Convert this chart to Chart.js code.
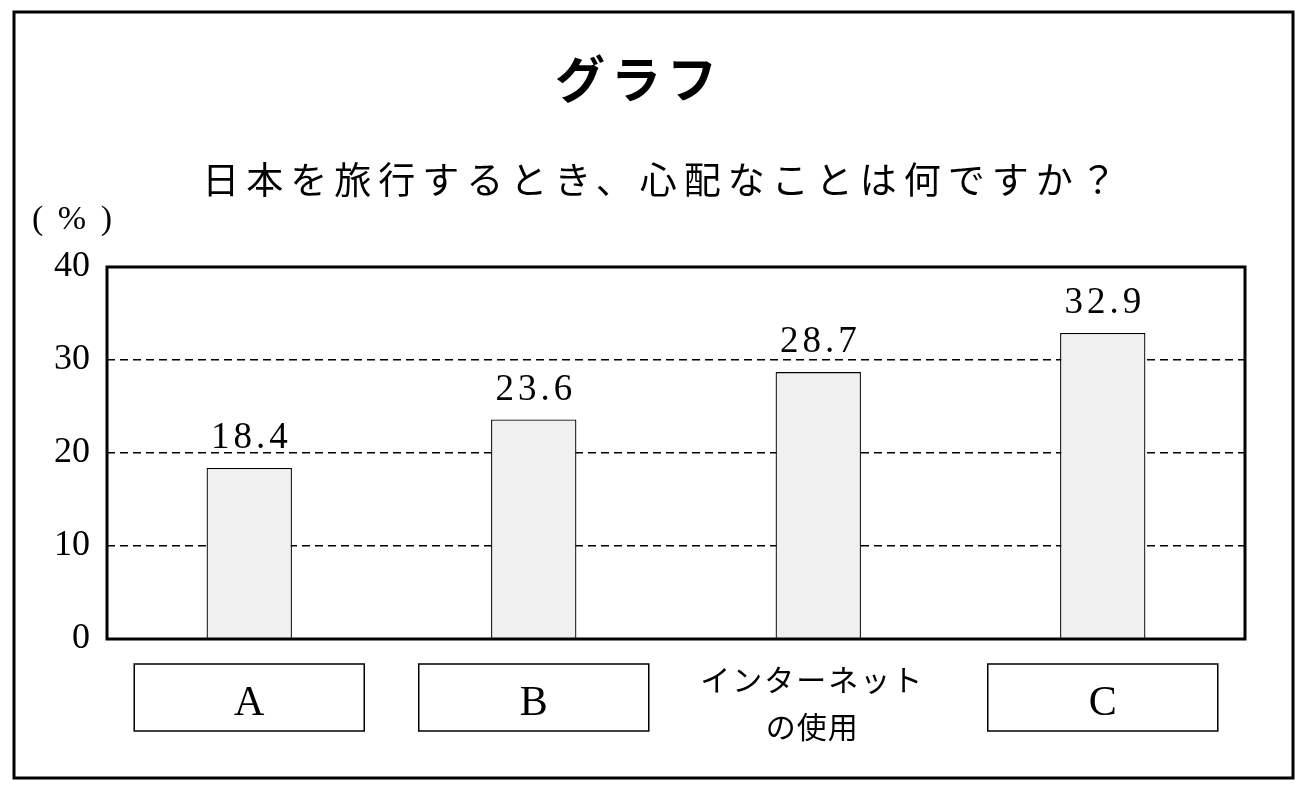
<!DOCTYPE html>
<html lang="ja">
<head>
<meta charset="utf-8">
<title>グラフ</title>
<script src="https://cdn.jsdelivr.net/npm/chart.js@4.4.1/dist/chart.umd.min.js"></script>
<style>
    html, body { margin: 0; padding: 0; background: #fff; }
    #wrap { width: 1307px; height: 792px; position: relative; }
</style>
</head>
<body>
<div id="wrap"><canvas id="bar_chart"></canvas></div>
<script>
// データ
const categories = ['A', 'B', ['インターネット', 'の使用'], 'C'];
const boxed = [true, true, false, true];
const values = [18.4, 23.6, 28.7, 32.9];
const yTicks = [0, 10, 20, 30, 40];

const titleText = 'グラフ';
const subtitleText = '日本を旅行するとき、心配なことは何ですか？';
const unitText = '( % )';

const SERIF = '"Liberation Serif", "DejaVu Serif", serif';
const SANS = '"Noto Sans CJK JP", "Noto Sans", sans-serif';

// 枠・タイトル・ラベルを描くプラグイン
const decoPlugin = {
    id: 'deco',
    beforeDraw: function (chart) {
        let ctx = chart.ctx;
        ctx.save();
        ctx.fillStyle = '#fff';
        ctx.fillRect(0, 0, chart.width, chart.height);
        ctx.strokeStyle = '#000';
        ctx.lineWidth = 3;
        ctx.strokeRect(14, 12, 1279, 766);

        ctx.fillStyle = '#000';
        ctx.textAlign = 'center';
        ctx.textBaseline = 'middle';
        ctx.font = 'bold 50px ' + SANS;
        ctx.letterSpacing = '6px';
        ctx.fillText(titleText, 639, 79);

        ctx.font = '37px ' + SANS;
        ctx.letterSpacing = '7px';
        ctx.fillText(subtitleText, 663, 180);

        ctx.textAlign = 'left';
        ctx.font = '34px ' + SERIF;
        ctx.letterSpacing = '3px';
        ctx.fillText(unitText, 32, 220);
        ctx.restore();
    },
    afterDraw: function (chart) {
        let ctx = chart.ctx;
        let area = chart.chartArea;
        let xScale = chart.scales.x;
        let meta = chart.getDatasetMeta(0);
        ctx.save();

        // グラフ枠
        ctx.strokeStyle = '#000';
        ctx.lineWidth = 3;
        ctx.strokeRect(area.left, area.top, area.right - area.left, area.bottom - area.top);

        // 値ラベル
        ctx.fillStyle = '#000';
        ctx.textAlign = 'center';
        ctx.textBaseline = 'alphabetic';
        ctx.font = '37px ' + SERIF;
        ctx.letterSpacing = '4px';
        meta.data.forEach(function (bar, i) {
            ctx.fillText(values[i].toFixed(1), bar.x + 2, bar.y - 20);
        });

        // 項目ラベル
        categories.forEach(function (cat, i) {
            let cx = xScale.getPixelForValue(i);
            if (boxed[i]) {
                ctx.lineWidth = 1.5;
                ctx.strokeRect(cx - 115, 664, 230, 67);
                ctx.font = '42px ' + SERIF;
                ctx.letterSpacing = '0px';
                ctx.textBaseline = 'alphabetic';
                ctx.fillText(cat, cx, 715);
            } else {
                ctx.font = '30px ' + SANS;
                ctx.letterSpacing = '2px';
                ctx.textBaseline = 'middle';
                ctx.fillText(cat[0], cx - 6, 680);
                ctx.letterSpacing = '1px';
                ctx.fillText(cat[1], cx - 6, 727);
            }
        });
        ctx.restore();
    }
};

let ctx = document.getElementById('bar_chart').getContext('2d');
let myChart = new Chart(ctx, {
    type: 'bar',
    data: {
        labels: categories,
        datasets: [{
            label: '心配なこと',
            data: values,
            backgroundColor: '#f0f0f0',
            borderColor: '#000',
            borderWidth: 1.3,
            barPercentage: 0.3,
            categoryPercentage: 1
        }]
    },
    options: {
        responsive: true,
        maintainAspectRatio: false,
        animation: false,
        layout: {
            padding: { top: 267, right: 62, bottom: 0, left: 0 }
        },
        plugins: {
            legend: { display: false },
            tooltip: { enabled: false },
            title: { display: false }
        },
        scales: {
            x: {
                grid: { display: false, drawTicks: false },
                border: { display: false },
                ticks: { display: false },
                afterFit: function (scale) { scale.height = 153; }
            },
            y: {
                min: yTicks[0],
                max: yTicks[yTicks.length - 1],
                afterBuildTicks: function (scale) {
                    scale.ticks = yTicks.map(function (v) { return { value: v }; });
                },
                afterFit: function (scale) { scale.width = 107; },
                grid: {
                    color: '#000',
                    lineWidth: 1.5,
                    drawTicks: false
                },
                border: { display: false, dash: [8, 5] },
                ticks: {
                    color: '#000',
                    padding: 17,
                    font: { family: SERIF, size: 36 }
                }
            }
        }
    },
    plugins: [decoPlugin]
});
</script>
</body>
</html>
